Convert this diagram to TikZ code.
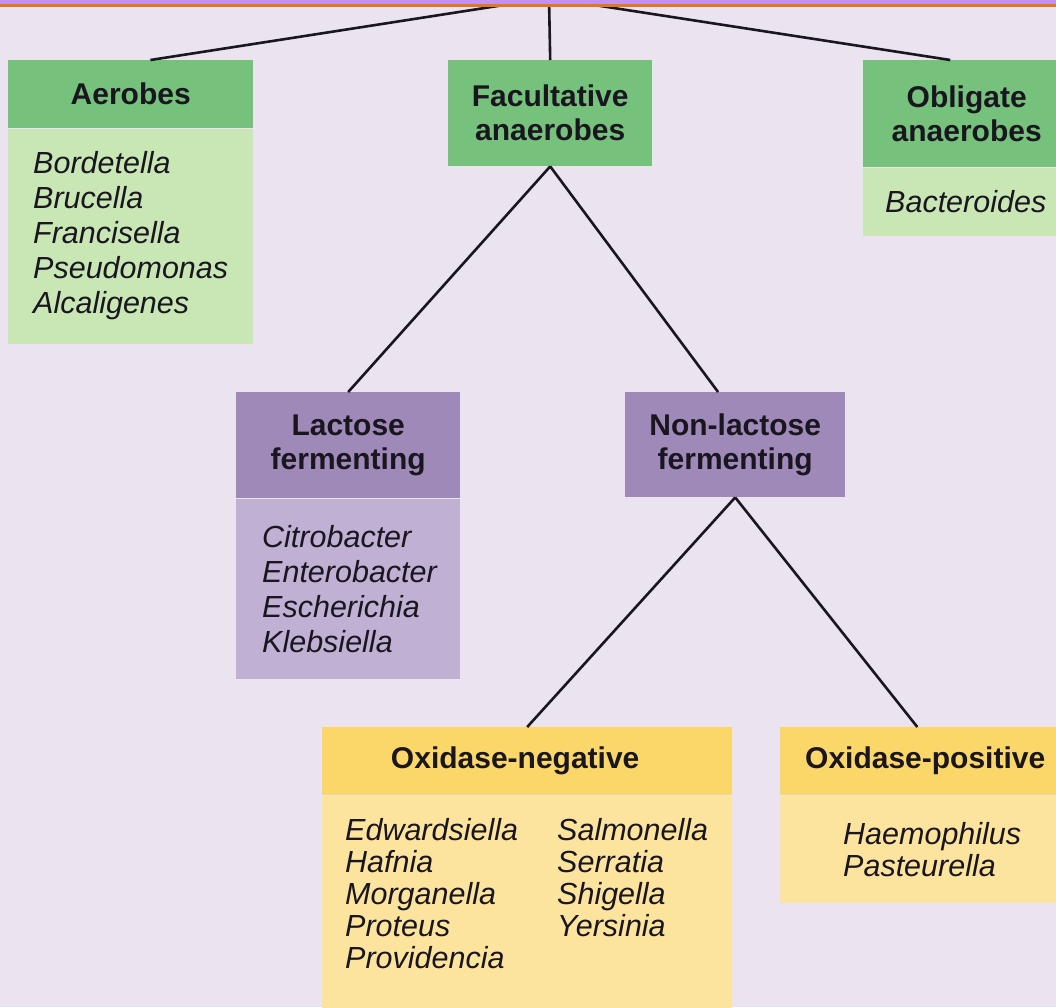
\documentclass[tikz,border=0pt]{standalone}
\usepackage{fontspec}
\setmainfont{Liberation Sans}
\definecolor{bgcol}{HTML}{ECE3F0}
\definecolor{bandpurple}{HTML}{C690EE}
\definecolor{bandorange}{HTML}{DC7B1E}
\definecolor{greenhead}{HTML}{76C27C}
\definecolor{greenbody}{HTML}{C9E6B5}
\definecolor{purplehead}{HTML}{9F89B8}
\definecolor{purplebody}{HTML}{BFB0D4}
\definecolor{yellowhead}{HTML}{FBD76A}
\definecolor{yellowbody}{HTML}{FDE49E}
\definecolor{inkcol}{HTML}{1A1620}
\begin{document}
\begin{tikzpicture}[x=1pt,y=-1pt,
        head/.style={fill=#1, inner sep=0pt, align=center, anchor=north west, text=inkcol,
            font=\fontsize{30}{34}\selectfont\bfseries},
        list/.style={fill=#1, inner ysep=0pt, anchor=north west, align=left, text=inkcol,
            font=\fontsize{30.5}{35}\selectfont\itshape},
        branch/.style={line width=2.6pt, draw=inkcol}]
        \useasboundingbox (0,0) rectangle (1056,1007);
        \clip (0,0) rectangle (1056,1007);
        \fill[bgcol] (0,0) rectangle (1056,1007);
        \node[head=greenhead, minimum width=245, minimum height=68] (aer) at (8,60) {Aerobes};
        \node[list=greenbody, minimum width=245, minimum height=215, text width=195, inner xsep=25] (aerlist) at (aer.south west) {Bordetella\\Brucella\\Francisella\\Pseudomonas\\Alcaligenes};
        \node[head=greenhead, minimum width=204, minimum height=106] (fac) at (448,60) {Facultative\\anaerobes};
        \node[head=greenhead, minimum width=207, minimum height=107] (obl) at (863,60) {Obligate\\anaerobes};
        \node[list=greenbody, minimum width=207, minimum height=68, text width=163, inner xsep=22] (obllist) at (obl.south west) {Bacteroides};
        \node[head=purplehead, minimum width=224, minimum height=106] (lac) at (236,392) {Lactose\\fermenting};
        \node[list=purplebody, minimum width=224, minimum height=180, text width=172, inner xsep=26] (laclist) at (lac.south west) {Citrobacter\\Enterobacter\\Escherichia\\Klebsiella};
        \node[head=purplehead, minimum width=220, minimum height=105] (nonlac) at (625,392) {Non-lactose\\fermenting};
        \node[head=yellowhead, minimum width=410, minimum height=68] (oxneg) at (322,727) {Oxidase-negative\hspace{24pt}};
        \node[list=yellowbody, minimum width=410, minimum height=240, inner sep=0pt] (oxneglist) at (oxneg.south west) {};
        \node[list=none, inner sep=0pt, font=\fontsize{30.5}{32}\selectfont\itshape] (oxnegcola) at ([xshift=23pt, yshift=-23pt]oxneglist.north west) {Edwardsiella\\Hafnia\\Morganella\\Proteus\\Providencia};
        \node[list=none, inner sep=0pt, font=\fontsize{30.5}{32}\selectfont\itshape] (oxnegcolb) at ([xshift=235pt, yshift=-23pt]oxneglist.north west) {Salmonella\\Serratia\\Shigella\\Yersinia};
        \node[head=yellowhead, minimum width=290, minimum height=68] (oxpos) at (780,727) {Oxidase-positive};
        \node[list=yellowbody, minimum width=290, minimum height=107, text width=180, inner xsep=63, font=\fontsize{30.5}{32}\selectfont\itshape] (oxposlist) at (oxpos.south west) {Haemophilus\\Pasteurella};
        \coordinate (root) at (549,-2);
        \draw[branch] (root) -- (aer.60);
        \draw[branch] (root) -- (fac.north);
        \draw[branch] (root) -- (obl.107);
        \draw[branch] (fac.south) -- (lac.north);
        \draw[branch] (fac.south) -- (nonlac.108);
        \draw[branch] (nonlac.south) -- (oxneg.north);
        \draw[branch] (nonlac.south) -- (oxpos.103);
        \fill[bandpurple] (0,0) rectangle (1056,3.5);
        \fill[bandorange] (0,3.5) rectangle (1056,7);
\end{tikzpicture}
\end{document}
